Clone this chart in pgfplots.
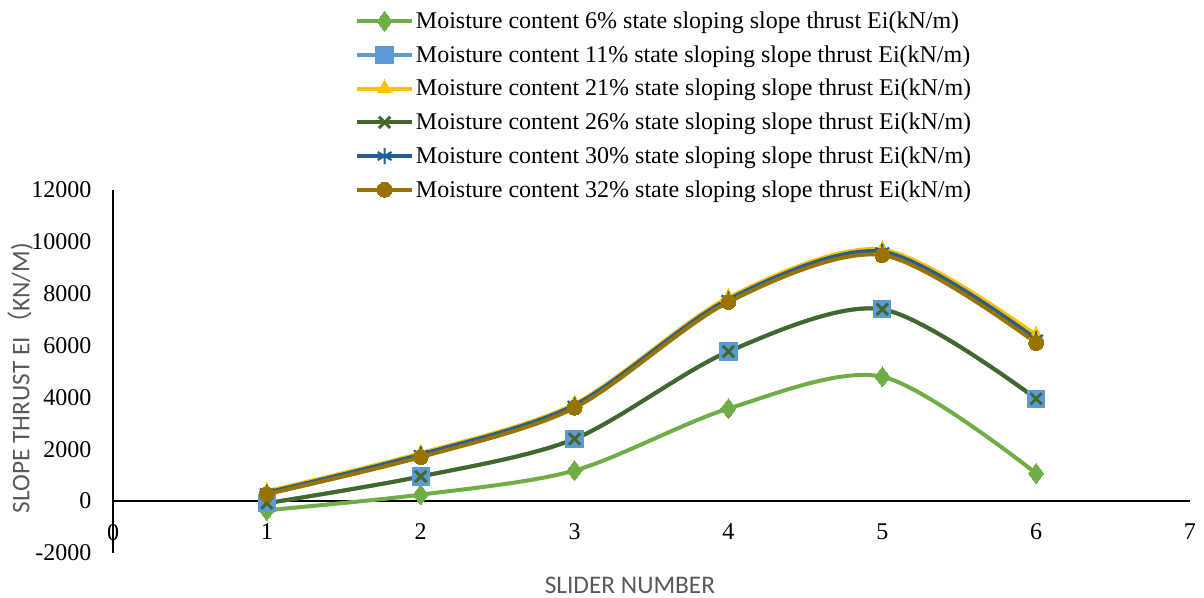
\documentclass[border=0pt]{standalone}
\usepackage{pgfplots}
\pgfplotsset{compat=1.18}
\usepackage{fontspec}
\setmainfont{Liberation Serif}
\newfontfamily\titlefont{Carlito}
\newfontfamily\cjk{Noto Sans CJK SC}

\definecolor{cSix}{HTML}{70AD47}
\definecolor{cEleven}{HTML}{5B9BD5}
\definecolor{cTwentyOne}{HTML}{FFC000}
\definecolor{cTwentySix}{HTML}{43682B}
\definecolor{cThirty}{HTML}{255E91}
\definecolor{cThirtyTwo}{HTML}{997300}
\definecolor{titlegray}{HTML}{595959}

\begin{document}
\begin{tikzpicture}[x=0.75pt,y=0.75pt]
\useasboundingbox (0,0) rectangle (1204,598);
\begin{axis}[
  at={(84.75pt,33.75pt)}, anchor=south west,
  scale only axis, width=807.75pt, height=272.25pt,
  xmin=0, xmax=7, ymin=-2000, ymax=12000,
  axis x line=middle, axis y line=left,
  axis line style={-, line width=1.6pt, black},
  xtick={0,...,7}, ytick={-2000,0,...,12000},
  hide obscured x ticks=false, hide obscured y ticks=false,
  major tick length=0pt,
  scaled y ticks=false,
  /pgf/number format/assume math mode=true,
  /pgf/number format/1000 sep={},
  tick label style={font=\fontsize{18}{20}\selectfont, black},
  xticklabel style={anchor=north, inner sep=0pt, yshift=-17pt},
  yticklabel style={anchor=east, inner sep=0pt, xshift=-16pt},
  xlabel={SLIDER NUMBER},
  ylabel={SLOPE THRUST EI{\cjk （}KN/M)},
  xlabel style={at={(axis description cs:0.48,-0.088)}, anchor=center,
    font=\titlefont\fontsize{19}{21}\selectfont, text=titlegray},
  ylabel style={at={(axis description cs:-0.086,0.482)}, anchor=center, rotate=0,
    font=\titlefont\fontsize{19}{21}\selectfont, text=titlegray},
  every axis plot/.append style={smooth, tension=0.5, line width=3pt},
  legend style={at={(axis description cs:0.2247,1.497)}, anchor=north west,
    draw=none, fill=none, font=\fontsize{18}{20}\selectfont,
    row sep=8.3pt, inner sep=0pt, nodes={inner sep=1.5pt}},
  legend cell align=left,
  legend image code/.code={
    \draw[mark repeat=2, mark phase=2] plot coordinates {(0pt,0pt) (20.5pt,0pt) (41pt,0pt)};
  },
]
% 6 %
\addplot[color=cSix, mark=diamond*, mark size=7.5pt, mark options={solid, fill=cSix, line width=0pt}]
  coordinates {(1,-350) (2,250) (3,1180) (4,3570) (5,4800) (6,1070)};
\addlegendentry{Moisture content 6\% state sloping slope thrust Ei(kN/m)}
% 11 %
\addplot[color=cEleven, mark=square*, mark size=6.5pt, mark options={solid, fill=cEleven, line width=0pt}]
  coordinates {(1,-80) (2,950) (3,2400) (4,5770) (5,7400) (6,3950)};
\addlegendentry{Moisture content 11\% state sloping slope thrust Ei(kN/m)}
% 21 %
\addplot[color=cTwentyOne, mark=triangle*, mark size=6.5pt, mark options={solid, fill=cTwentyOne, line width=0pt}]
  coordinates {(1,380) (2,1850) (3,3750) (4,7850) (5,9700) (6,6400)};
\addlegendentry{Moisture content 21\% state sloping slope thrust Ei(kN/m)}
% 26 %
\addplot[color=cTwentySix, mark=x, mark size=6pt, mark options={solid, line width=2.2pt}]
  coordinates {(1,-80) (2,950) (3,2400) (4,5770) (5,7400) (6,3950)};
\addlegendentry{Moisture content 26\% state sloping slope thrust Ei(kN/m)}
% 30 %
\addplot[color=cThirty, mark=asterisk, mark size=6pt, mark options={solid, line width=1.6pt}]
  coordinates {(1,330) (2,1800) (3,3700) (4,7780) (5,9620) (6,6250)};
\addlegendentry{Moisture content 30\% state sloping slope thrust Ei(kN/m)}
% 32 %
\addplot[color=cThirtyTwo, mark=*, mark size=5.6pt, mark options={solid, fill=cThirtyTwo, line width=0pt}]
  coordinates {(1,270) (2,1700) (3,3600) (4,7680) (5,9490) (6,6100)};
\addlegendentry{Moisture content 32\% state sloping slope thrust Ei(kN/m)}
\end{axis}
\end{tikzpicture}
\end{document}
